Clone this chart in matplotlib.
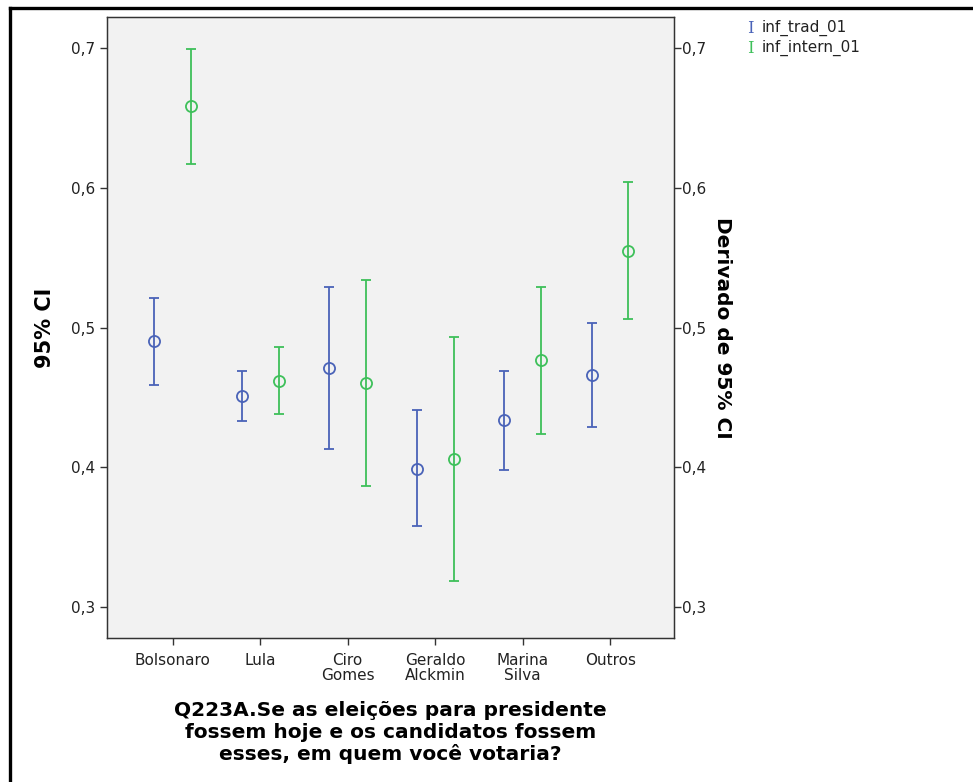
import matplotlib
matplotlib.use('Agg')
import matplotlib.pyplot as plt
import numpy as np
from matplotlib.lines import Line2D

# candidates (x categories)
cats = ['Bolsonaro', 'Lula', 'Ciro\nGomes', 'Geraldo\nAlckmin', 'Marina\nSilva', 'Outros']

# inf_trad_01: mean and 95% CI
trad_mean = [0.490, 0.451, 0.471, 0.399, 0.434, 0.466]
trad_low = [0.459, 0.433, 0.413, 0.358, 0.398, 0.429]
trad_high = [0.521, 0.469, 0.529, 0.441, 0.469, 0.503]

# inf_intern_01: mean and 95% CI
intern_mean = [0.658, 0.462, 0.460, 0.406, 0.477, 0.555]
intern_low = [0.617, 0.438, 0.387, 0.319, 0.424, 0.506]
intern_high = [0.699, 0.486, 0.534, 0.493, 0.529, 0.604]

yticks = [0.3, 0.4, 0.5, 0.6, 0.7]
ytick_labels = ['0,3', '0,4', '0,5', '0,6', '0,7']

series = [
    ('inf_trad_01', trad_mean, trad_low, trad_high, '#4a63b8', -0.21),
    ('inf_intern_01', intern_mean, intern_low, intern_high, '#3ec05a', 0.21),
]

fig = plt.figure(figsize=(9.73, 7.82), dpi=100)
ax = fig.add_axes([0.110, 0.1841, 0.5827, 0.7942])
ax.set_facecolor('#f2f2f2')

x = np.arange(len(cats))
for name, mean, low, high, col, off in series:
    mean = np.array(mean)
    err = [mean - np.array(low), np.array(high) - mean]
    ax.errorbar(x + off, mean, yerr=err, fmt='o', color=col, ecolor=col,
                mfc='none', mec=col, ms=8, mew=1.3, elinewidth=1.3,
                capsize=3.8, capthick=1.3)

ax.set_xlim(-0.75, 5.73)
ax.set_ylim(0.278, 0.722)
ax.set_yticks(yticks)
ax.set_yticklabels(ytick_labels)
ax.set_xticks(x)
ax.set_xticklabels(cats, linespacing=1.0)
for sp in ax.spines.values():
    sp.set_color('#333333')
    sp.set_linewidth(1.0)
ax.tick_params(axis='both', length=5, width=1, color='#333333',
               labelsize=11, labelcolor='#222222')
ax.tick_params(axis='x', pad=6)

ax2 = ax.twinx()
ax2.set_ylim(ax.get_ylim())
ax2.set_yticks(yticks)
ax2.set_yticklabels(ytick_labels)
ax2.tick_params(axis='y', length=5, width=1, color='#333333',
                labelsize=11, labelcolor='#222222', pad=1)
for sp in ax2.spines.values():
    sp.set_color('#333333')

ax.text(-0.109, 0.5, '95% CI', transform=ax.transAxes, rotation=90,
        ha='center', va='center', fontsize=15, fontweight='bold')
ax.text(1.085, 0.5, 'Derivado de 95% CI', transform=ax.transAxes, rotation=-90,
        ha='center', va='center', fontsize=14.5, fontweight='bold')

ax.set_xlabel('Q223A.Se as eleições para presidente\nfossem hoje e os candidatos fossem\nesses, em quem você votaria?',
              fontsize=14.5, fontweight='bold', linespacing=1.15, labelpad=13)

# legend
for i, (name, mean, low, high, col, off) in enumerate(series):
    yy = 0.964 - i * 0.0256
    fig.text(0.7715, yy, 'I', family='DejaVu Serif', color=col, fontsize=12,
             ha='center', va='center')
    fig.text(0.783, yy, name, fontsize=11, ha='left', va='center', color='#222222')

# frame border (left and top)
fig.add_artist(Line2D([0.0098, 0.0098], [0, 0.9904], transform=fig.transFigure,
                      color='black', lw=2.4, solid_capstyle='projecting'))
fig.add_artist(Line2D([0.0098, 1.0], [0.9904, 0.9904], transform=fig.transFigure,
                      color='black', lw=2.4, solid_capstyle='projecting'))

fig.savefig('out.png', dpi=100)
